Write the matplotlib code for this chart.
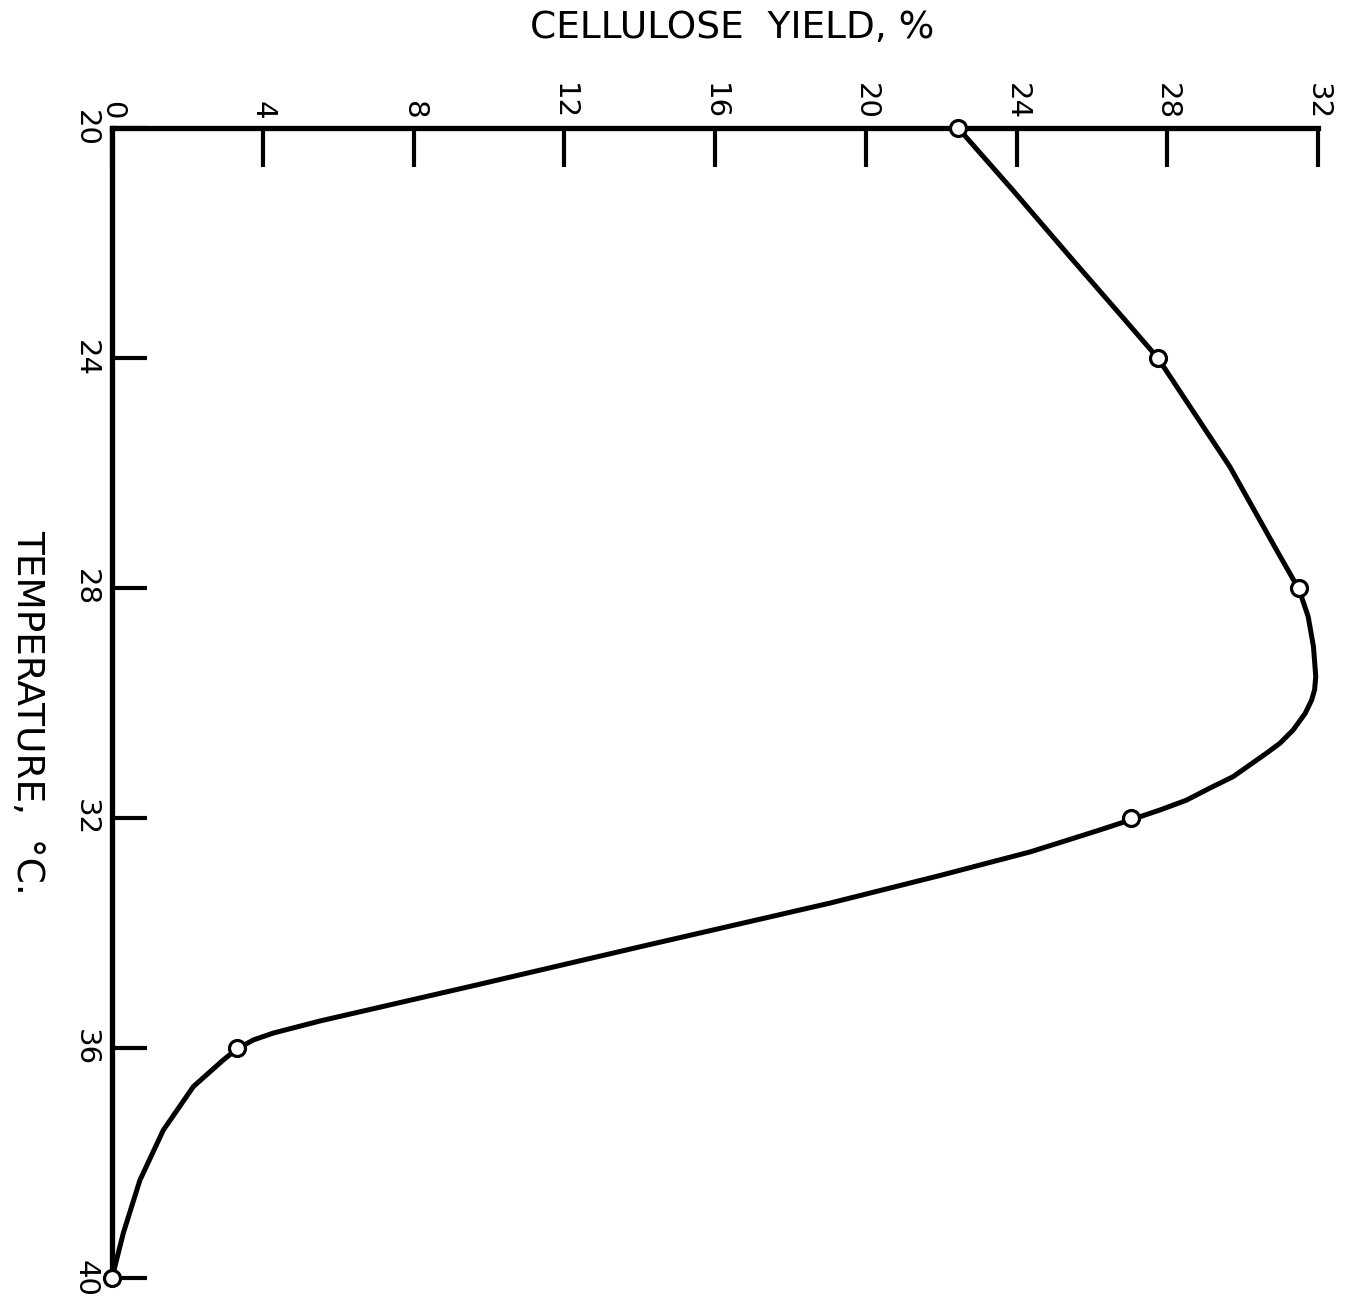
import matplotlib
matplotlib.use("Agg")
import matplotlib.pyplot as plt

# Measured points (temperature °C, cellulose yield %)
temps = [20, 24, 28, 32, 36, 40]
yields = [22.45, 27.75, 31.5, 27.04, 3.31, 0.0]

# Hand-drawn smooth curve
curve_temp = [20.00, 21.08, 22.24, 23.34, 24.00, 25.02, 25.89, 26.93, 27.34, 28.03,
              28.50, 29.02, 29.54, 29.77, 29.95, 30.18, 30.47, 30.70, 30.87, 31.28,
              31.48, 31.69, 31.86, 32.03, 32.21, 32.38, 32.59, 33.00, 33.48, 34.24,
              34.93, 35.37, 35.53, 35.74, 35.86, 36.02, 36.21, 36.67, 37.43, 38.30,
              39.22, 40.00]
curve_yield = [22.45, 23.90, 25.42, 26.88, 27.75, 28.78, 29.66, 30.55, 30.90, 31.50,
               31.74, 31.88, 31.94, 31.91, 31.83, 31.66, 31.34, 30.99, 30.64, 29.75,
               29.13, 28.51, 27.81, 27.04, 26.20, 25.38, 24.36, 21.97, 19.05, 14.01,
               9.50, 6.58, 5.52, 4.28, 3.75, 3.31, 2.95, 2.16, 1.36, 0.74,
               0.30, 0.00]

x_ticks = [0, 4, 8, 12, 16, 20, 24, 28, 32]
y_ticks = [20, 24, 28, 32, 36, 40]
x_title = "CELLULOSE  YIELD, %"
y_title = "TEMPERATURE,  °C."

plt.rcParams['font.family'] = ['DejaVu Sans']

fig = plt.figure(figsize=(13.5, 13.04), dpi=100)
ax = fig.add_axes([112 / 1350, 1 - 1278 / 1304, (1318 - 112) / 1350, (1278 - 128) / 1304])

ax.plot(curve_yield, curve_temp, color='black', lw=3.6, solid_capstyle='round',
        solid_joinstyle='round', clip_on=False, zorder=2)
ax.plot(yields, temps, linestyle='none', marker='o', markersize=11.5,
        markerfacecolor='white', markeredgecolor='black', markeredgewidth=2.3,
        clip_on=False, zorder=3)

ax.set_xlim(0, 32)
ax.set_ylim(40, 20)

for s in ['bottom', 'right']:
    ax.spines[s].set_visible(False)
for s in ['top', 'left']:
    ax.spines[s].set_linewidth(3.8)

ax.xaxis.tick_top()
ax.set_xticks(x_ticks)
ax.set_xticklabels([str(v) for v in x_ticks], rotation=-90, fontsize=21)
ax.set_yticks(y_ticks)
ax.set_yticklabels([str(v) for v in y_ticks], rotation=-90, fontsize=21, va='center')
ax.tick_params(axis='x', direction='in', length=28, width=3, pad=6)
ax.tick_params(axis='y', direction='in', length=25, width=3, pad=9)

fig.text(732 / 1350, 1 - 28 / 1304, x_title, ha='center', va='center', fontsize=27)
fig.text(27 / 1350, 1 - 712 / 1304, y_title, ha='center', va='center', fontsize=27,
         rotation=-90)

fig.savefig("out.png", dpi=100, facecolor='white')
